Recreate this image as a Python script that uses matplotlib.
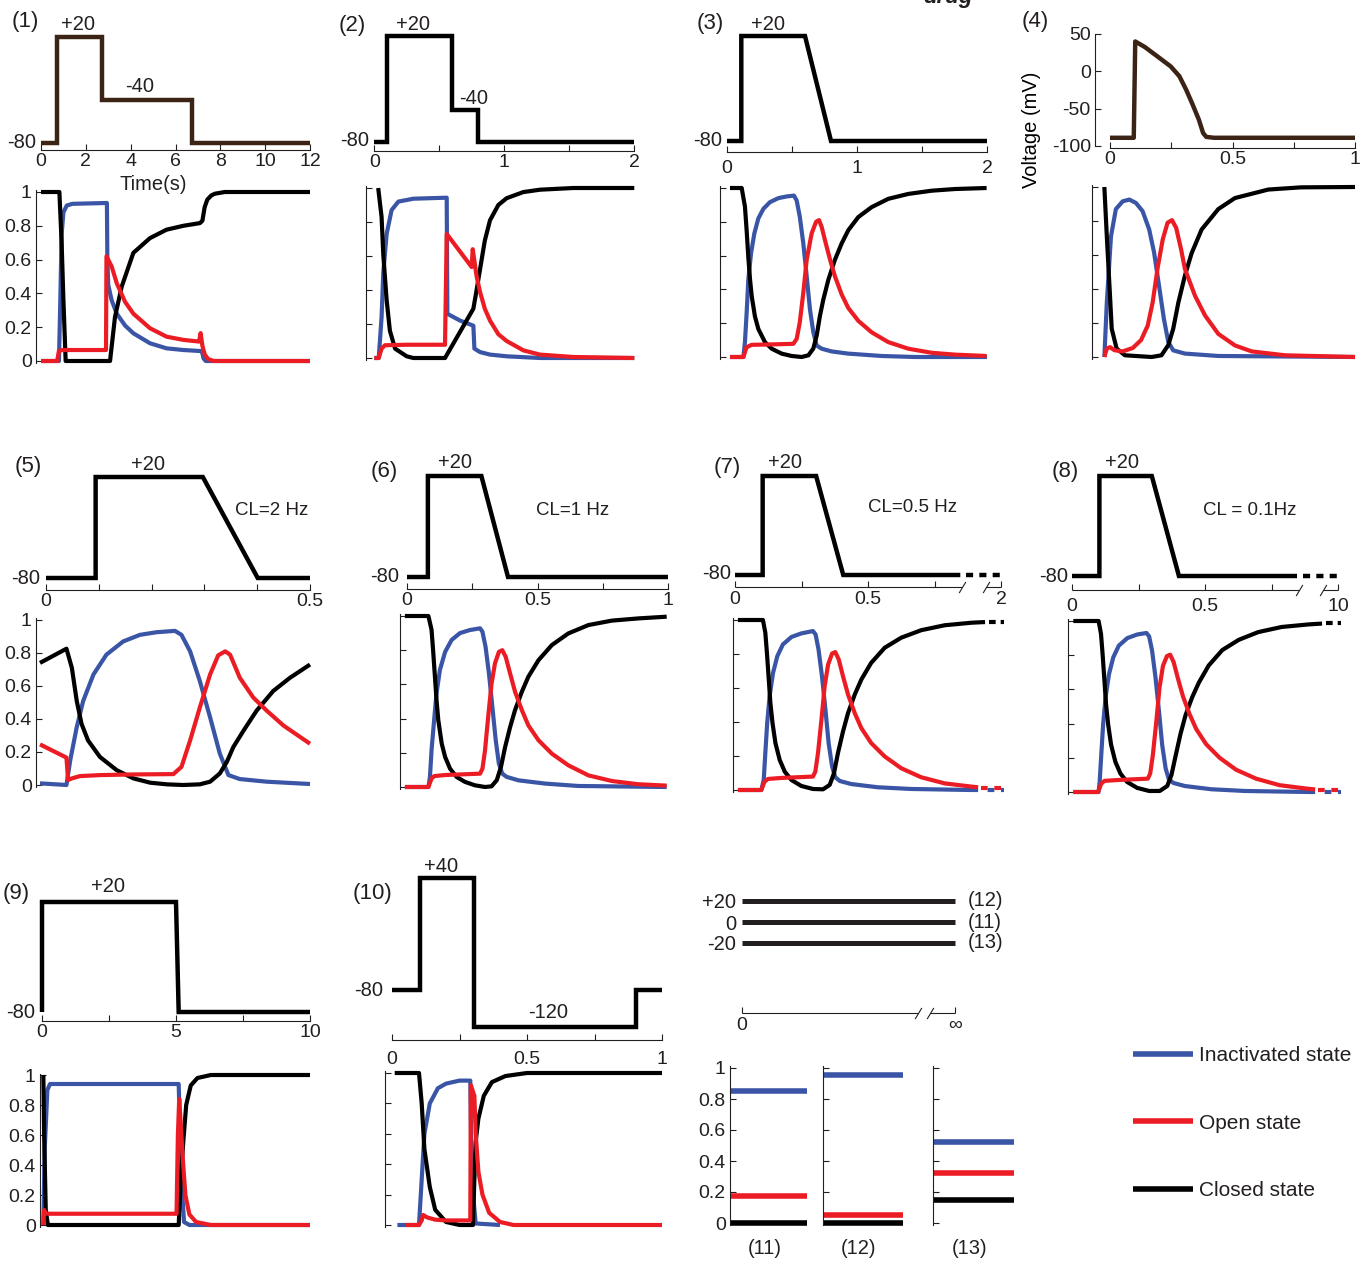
import matplotlib
matplotlib.use('Agg')
import matplotlib.pyplot as plt
from matplotlib.lines import Line2D

plt.rcParams['font.family'] = ['Liberation Sans', 'DejaVu Sans']
plt.rcParams['lines.solid_capstyle'] = 'butt'
plt.rcParams['lines.solid_joinstyle'] = 'round'
plt.rcParams['text.color'] = '#231f20'
plt.rcParams['xtick.color'] = '#231f20'
plt.rcParams['ytick.color'] = '#231f20'

# ------------------------------------------------------------------ DATA
# Voltage protocols (time, mV)
v1_t = [0, 0.7, 0.7, 2.7, 2.7, 6.72, 6.72, 12]
v1_v = [-80, -80, 20, 20, -40, -40, -80, -80]
v2_t = [0, 0.095, 0.095, 0.6, 0.6, 0.8, 0.8, 2.0]
v2_v = [-80, -80, 20, 20, -50, -50, -80, -80]
v3_t = [0, 0.11, 0.11, 0.6, 0.8, 2.0]
v3_v = [-80, -80, 20, 20, -80, -80]
v4_t = [0, 0.097, 0.103, 0.142, 0.195, 0.248, 0.283, 0.31, 0.336, 0.363, 0.38, 0.393, 0.425, 1.0]
v4_v = [-89, -89, 40, 32.6, 19.6, 6.5, -6.5, -24, -43.5, -65, -82.6, -87.8, -89, -89]
v5_t = [0, 0.094, 0.094, 0.297, 0.401, 0.5]
v5_v = [-80, -80, 20, 20, -80, -80]
v6_t = [0, 0.08, 0.08, 0.285, 0.387, 1.0]
v6_v = [-80, -80, 20, 20, -80, -80]
v7_t = [0, 0.104, 0.104, 0.305, 0.407, 0.847]
v7_v = [-80, -80, 20, 20, -80, -80]
v8_t = [0, 0.103, 0.103, 0.3, 0.402, 0.846]
v8_v = [-80, -80, 20, 20, -80, -80]
v9_t = [0, 0, 5.0, 5.1, 10]
v9_v = [-80, 20, 20, -80, -80]
v10_t = [0, 0.103, 0.103, 0.303, 0.303, 0.905, 0.905, 1.0]
v10_v = [-80, -80, 40, 40, -120, -120, -80, -80]
hold_levels = [20, 0, -20]
hold_names = ['(12)', '(11)', '(13)']

# State occupancies (time, fraction)
p1_closed_t = [0, 0.82, 0.92, 1.0, 1.1, 3.08, 3.3, 3.6, 4.12, 4.86, 5.6, 6.35, 7.09, 7.2, 7.3, 7.42, 7.6, 7.76, 8.2, 12]
p1_closed = [1, 1, 0.7, 0.36, 0, 0, 0.26, 0.44, 0.64, 0.727, 0.777, 0.8, 0.816, 0.83, 0.91, 0.955, 0.98, 0.99, 1.0, 1.0]
p1_inact_t = [0, 0.8, 0.86, 0.92, 1.0, 1.15, 1.4, 2.94, 2.96, 3.0, 3.15, 3.38, 3.75, 4.12, 4.86, 5.6, 6.35, 7.09, 7.18, 7.25, 7.35, 12]
p1_inact = [0, 0, 0.35, 0.75, 0.88, 0.92, 0.93, 0.935, 0.6, 0.45, 0.36, 0.28, 0.21, 0.164, 0.105, 0.075, 0.065, 0.059, 0.058, 0.015, 0, 0]
p1_open_t = [0, 0.72, 0.8, 0.95, 2.9, 2.92, 3.15, 3.38, 3.75, 4.12, 4.86, 5.6, 6.35, 7.05, 7.12, 7.2, 7.3, 7.45, 7.7, 12]
p1_open = [0, 0, 0.06, 0.065, 0.065, 0.62, 0.56, 0.46, 0.35, 0.28, 0.194, 0.144, 0.125, 0.115, 0.165, 0.09, 0.04, 0.012, 0, 0]

p2_closed_t = [0.03, 0.056, 0.069, 0.095, 0.12, 0.16, 0.249, 0.3, 0.544, 0.762, 0.787, 0.813, 0.85, 0.89, 0.954, 1.018, 1.146, 1.274, 1.53, 2.0]
p2_closed = [1.0, 0.83, 0.61, 0.34, 0.16, 0.055, 0.01, 0, 0, 0.29, 0.40, 0.52, 0.69, 0.81, 0.9, 0.94, 0.976, 0.99, 1.0, 1.0]
p2_inact_t = [0, 0.034, 0.056, 0.069, 0.095, 0.133, 0.185, 0.3, 0.557, 0.562, 0.66, 0.762, 0.77, 0.813, 0.89, 1.018, 1.274, 2.0]
p2_inact = [0, 0, 0.24, 0.5, 0.73, 0.87, 0.92, 0.937, 0.943, 0.26, 0.22, 0.19, 0.055, 0.035, 0.02, 0.01, 0, 0]
p2_open_t = [0, 0.034, 0.056, 0.082, 0.249, 0.544, 0.557, 0.749, 0.757, 0.787, 0.813, 0.85, 0.89, 0.954, 1.018, 1.146, 1.274, 1.53, 2.0]
p2_open = [0, 0, 0.055, 0.075, 0.078, 0.078, 0.73, 0.535, 0.64, 0.48, 0.39, 0.29, 0.22, 0.14, 0.1, 0.045, 0.02, 0.006, 0]

p3_closed_t = [0.023, 0.113, 0.138, 0.151, 0.164, 0.177, 0.19, 0.215, 0.241, 0.292, 0.344, 0.42, 0.497, 0.574, 0.626, 0.664, 0.69, 0.715, 0.741, 0.78, 0.83, 0.882, 0.933, 1.01, 1.113, 1.241, 1.395, 1.574, 1.754, 1.997]
p3_closed = [1, 1, 0.89, 0.75, 0.59, 0.46, 0.36, 0.24, 0.166, 0.088, 0.049, 0.02, 0.006, 0, 0.01, 0.05, 0.127, 0.244, 0.34, 0.458, 0.575, 0.672, 0.75, 0.828, 0.887, 0.936, 0.965, 0.984, 0.994, 1.0]
p3_inact_t = [0.023, 0.126, 0.138, 0.151, 0.164, 0.185, 0.21, 0.241, 0.28, 0.33, 0.395, 0.459, 0.515, 0.536, 0.56, 0.587, 0.613, 0.638, 0.664, 0.69, 0.728, 0.805, 0.933, 1.19, 1.446, 2.0]
p3_inact = [0, 0, 0.088, 0.26, 0.458, 0.614, 0.73, 0.82, 0.877, 0.916, 0.94, 0.95, 0.955, 0.926, 0.83, 0.672, 0.478, 0.283, 0.146, 0.068, 0.049, 0.033, 0.02, 0.006, 0, 0]
p3_open_t = [0.023, 0.126, 0.151, 0.19, 0.318, 0.51, 0.536, 0.56, 0.587, 0.613, 0.651, 0.685, 0.708, 0.728, 0.754, 0.793, 0.83, 0.882, 0.933, 1.01, 1.113, 1.241, 1.395, 1.574, 1.754, 1.997]
p3_open = [0, 0, 0.058, 0.072, 0.074, 0.078, 0.107, 0.205, 0.38, 0.575, 0.731, 0.8, 0.81, 0.77, 0.69, 0.575, 0.478, 0.37, 0.29, 0.214, 0.146, 0.088, 0.049, 0.025, 0.014, 0.006]

p4_closed_t = [-0.023, -0.013, 0.0, 0.007, 0.027, 0.061, 0.17, 0.21, 0.238, 0.258, 0.279, 0.306, 0.333, 0.374, 0.442, 0.51, 0.646, 0.78, 1.0]
p4_closed = [1.0, 0.71, 0.36, 0.166, 0.05, 0.01, 0, 0.01, 0.07, 0.166, 0.32, 0.48, 0.61, 0.75, 0.87, 0.935, 0.985, 0.998, 1.0]
p4_inact_t = [-0.023, -0.013, 0.004, 0.024, 0.052, 0.079, 0.106, 0.133, 0.16, 0.18, 0.2, 0.22, 0.238, 0.258, 0.306, 0.442, 1.0]
p4_inact = [0, 0.32, 0.71, 0.87, 0.916, 0.926, 0.906, 0.858, 0.75, 0.614, 0.42, 0.224, 0.088, 0.039, 0.02, 0.006, 0]
p4_open_t = [-0.023, -0.013, 0.0, 0.018, 0.052, 0.093, 0.127, 0.154, 0.174, 0.194, 0.215, 0.235, 0.253, 0.27, 0.29, 0.306, 0.347, 0.388, 0.442, 0.51, 0.578, 0.714, 1.0]
p4_open = [0, 0.05, 0.058, 0.04, 0.033, 0.053, 0.1, 0.185, 0.32, 0.52, 0.69, 0.79, 0.805, 0.76, 0.634, 0.517, 0.36, 0.244, 0.136, 0.068, 0.033, 0.01, 0]

p5_closed_t = [0, 0.049, 0.059, 0.068, 0.077, 0.089, 0.111, 0.142, 0.173, 0.204, 0.235, 0.265, 0.296, 0.315, 0.333, 0.346, 0.358, 0.377, 0.401, 0.432, 0.463, 0.5]
p5_closed = [0.74, 0.826, 0.71, 0.51, 0.37, 0.27, 0.17, 0.09, 0.04, 0.014, 0.004, 0, 0.004, 0.02, 0.07, 0.14, 0.23, 0.33, 0.45, 0.57, 0.65, 0.73]
p5_inact_t = [0, 0.049, 0.056, 0.068, 0.08, 0.099, 0.123, 0.154, 0.185, 0.216, 0.25, 0.262, 0.278, 0.296, 0.315, 0.333, 0.349, 0.37, 0.42, 0.5]
p5_inact = [0.01, 0.0, 0.15, 0.35, 0.51, 0.67, 0.79, 0.87, 0.91, 0.926, 0.934, 0.91, 0.81, 0.63, 0.41, 0.19, 0.06, 0.036, 0.02, 0.006]
p5_open_t = [0, 0.049, 0.052, 0.059, 0.074, 0.111, 0.173, 0.247, 0.262, 0.278, 0.296, 0.315, 0.33, 0.343, 0.352, 0.37, 0.395, 0.42, 0.451, 0.5]
p5_open = [0.246, 0.166, 0.03, 0.04, 0.054, 0.06, 0.064, 0.066, 0.11, 0.27, 0.47, 0.67, 0.786, 0.81, 0.79, 0.65, 0.53, 0.45, 0.36, 0.25]

p6_closed_t = [-0.008, 0.082, 0.094, 0.1, 0.107, 0.113, 0.12, 0.133, 0.146, 0.165, 0.19, 0.222, 0.26, 0.299, 0.324, 0.344, 0.36, 0.376, 0.395, 0.414, 0.44, 0.465, 0.504, 0.555, 0.618, 0.695, 0.785, 0.887, 0.995]
p6_closed = [1, 1, 0.92, 0.8, 0.645, 0.51, 0.39, 0.254, 0.176, 0.107, 0.059, 0.03, 0.01, 0, 0.004, 0.04, 0.117, 0.234, 0.35, 0.45, 0.557, 0.645, 0.742, 0.83, 0.898, 0.947, 0.973, 0.986, 0.996]
p6_inact_t = [-0.008, 0.082, 0.088, 0.094, 0.105, 0.113, 0.126, 0.146, 0.171, 0.203, 0.241, 0.28, 0.289, 0.301, 0.314, 0.327, 0.34, 0.352, 0.365, 0.382, 0.427, 0.529, 0.656, 0.995]
p6_inact = [0, 0, 0.06, 0.215, 0.41, 0.547, 0.684, 0.79, 0.86, 0.9, 0.918, 0.928, 0.908, 0.82, 0.664, 0.47, 0.273, 0.137, 0.078, 0.059, 0.039, 0.02, 0.006, 0]
p6_open_t = [-0.008, 0.082, 0.094, 0.105, 0.146, 0.28, 0.289, 0.299, 0.311, 0.324, 0.337, 0.352, 0.365, 0.378, 0.395, 0.414, 0.44, 0.465, 0.504, 0.555, 0.618, 0.695, 0.785, 0.887, 0.995]
p6_open = [0, 0, 0.049, 0.064, 0.07, 0.078, 0.107, 0.215, 0.41, 0.605, 0.723, 0.79, 0.8, 0.762, 0.664, 0.557, 0.45, 0.36, 0.273, 0.195, 0.127, 0.068, 0.035, 0.016, 0.008]

p7_closed_t = [0.011, 0.105, 0.114, 0.12, 0.127, 0.133, 0.141, 0.152, 0.168, 0.187, 0.212, 0.249, 0.293, 0.331, 0.356, 0.372, 0.387, 0.406, 0.425, 0.45, 0.475, 0.512, 0.563, 0.625, 0.7, 0.788, 0.889, 0.94]
p7_closed = [1, 1, 0.925, 0.807, 0.65, 0.512, 0.394, 0.276, 0.177, 0.108, 0.059, 0.024, 0.006, 0.004, 0.03, 0.098, 0.217, 0.344, 0.453, 0.561, 0.65, 0.748, 0.837, 0.896, 0.94, 0.969, 0.984, 0.988]
p7_inact_t = [0.011, 0.099, 0.108, 0.114, 0.121, 0.13, 0.143, 0.159, 0.18, 0.212, 0.249, 0.293, 0.303, 0.314, 0.327, 0.34, 0.352, 0.365, 0.377, 0.394, 0.437, 0.537, 0.663, 0.889, 0.914]
p7_inact = [0, 0, 0.06, 0.217, 0.394, 0.551, 0.689, 0.787, 0.856, 0.9, 0.921, 0.935, 0.915, 0.827, 0.669, 0.472, 0.276, 0.138, 0.075, 0.053, 0.035, 0.016, 0.006, 0, 0]
p7_open_t = [0.011, 0.099, 0.111, 0.124, 0.174, 0.293, 0.302, 0.312, 0.325, 0.337, 0.35, 0.365, 0.377, 0.39, 0.406, 0.425, 0.45, 0.475, 0.512, 0.563, 0.625, 0.7, 0.788, 0.889, 0.914]
p7_open = [0, 0, 0.049, 0.065, 0.071, 0.079, 0.108, 0.217, 0.413, 0.61, 0.738, 0.803, 0.811, 0.768, 0.669, 0.561, 0.453, 0.364, 0.276, 0.197, 0.128, 0.075, 0.039, 0.02, 0.016]

p8_closed_t = [0.005, 0.1, 0.109, 0.115, 0.122, 0.128, 0.136, 0.147, 0.163, 0.182, 0.207, 0.245, 0.29, 0.33, 0.358, 0.374, 0.39, 0.408, 0.427, 0.452, 0.477, 0.514, 0.565, 0.627, 0.7, 0.788, 0.889, 0.94]
p8_closed = [1, 1, 0.925, 0.807, 0.65, 0.512, 0.394, 0.276, 0.177, 0.108, 0.059, 0.024, 0.006, 0.006, 0.035, 0.1, 0.215, 0.34, 0.45, 0.555, 0.64, 0.74, 0.83, 0.89, 0.935, 0.965, 0.98, 0.985]
p8_inact_t = [0.005, 0.1, 0.104, 0.11, 0.117, 0.126, 0.139, 0.155, 0.176, 0.208, 0.245, 0.28, 0.29, 0.301, 0.314, 0.327, 0.339, 0.352, 0.364, 0.381, 0.424, 0.524, 0.65, 0.889, 0.914]
p8_inact = [0, 0, 0.06, 0.217, 0.394, 0.551, 0.689, 0.787, 0.856, 0.9, 0.921, 0.93, 0.91, 0.827, 0.669, 0.472, 0.276, 0.138, 0.075, 0.053, 0.035, 0.016, 0.006, 0, 0]
p8_open_t = [0.005, 0.098, 0.11, 0.122, 0.172, 0.285, 0.294, 0.304, 0.317, 0.329, 0.342, 0.357, 0.369, 0.382, 0.398, 0.417, 0.442, 0.467, 0.504, 0.555, 0.617, 0.692, 0.78, 0.881, 0.914]
p8_open = [0, 0, 0.049, 0.065, 0.07, 0.078, 0.108, 0.217, 0.413, 0.61, 0.738, 0.795, 0.803, 0.76, 0.665, 0.56, 0.455, 0.368, 0.28, 0.2, 0.13, 0.078, 0.04, 0.02, 0.015]

p9_closed_t = [0.05, 0.08, 0.14, 0.22, 5.1, 5.18, 5.27, 5.38, 5.55, 5.8, 6.3, 10]
p9_closed = [1.0, 0.6, 0.1, 0.0, 0.0, 0.3, 0.55, 0.8, 0.93, 0.98, 1.0, 1.0]
p9_inact_t = [0.05, 0.1, 0.2, 0.3, 5.1, 5.2, 5.3, 5.5, 10]
p9_inact = [0, 0.5, 0.9, 0.94, 0.94, 0.3, 0.02, 0, 0]
p9_open_t = [0.05, 0.08, 0.12, 0.3, 5.02, 5.07, 5.12, 5.25, 5.35, 5.5, 5.75, 6.3, 10]
p9_open = [0, 0.1, 0.077, 0.075, 0.075, 0.6, 0.84, 0.45, 0.2, 0.07, 0.02, 0.0, 0.0]

p10_closed_t = [0.01, 0.1, 0.11, 0.12, 0.14, 0.16, 0.2, 0.25, 0.3, 0.305, 0.31, 0.32, 0.34, 0.37, 0.42, 0.5, 1.0]
p10_closed = [1, 1, 0.8, 0.5, 0.25, 0.1, 0.02, 0.0, 0.0, 0.3, 0.55, 0.7, 0.85, 0.94, 0.98, 1.0, 1.0]
p10_inact_t = [0.02, 0.1, 0.11, 0.12, 0.14, 0.17, 0.2, 0.25, 0.29, 0.295, 0.31, 0.4]
p10_inact = [0, 0, 0.3, 0.6, 0.8, 0.9, 0.93, 0.95, 0.95, 0.3, 0.01, 0]
p10_open_t = [0.05, 0.1, 0.11, 0.115, 0.13, 0.16, 0.2, 0.29, 0.292, 0.305, 0.31, 0.32, 0.335, 0.36, 0.4, 0.45, 1.0]
p10_open = [0, 0, 0.03, 0.066, 0.05, 0.035, 0.03, 0.03, 0.92, 0.85, 0.6, 0.35, 0.2, 0.08, 0.02, 0.0, 0.0]

# tails after axis break, panels (7) and (8): closed, inactivated, open
p7_tail = [0.99, 0.0, 0.012]
p8_tail = [0.99, 0.0, 0.012]

# steady state at constant voltage, panels (11), (12), (13)
ss_names = ['(11)', '(12)', '(13)']
ss_inact = [0.853, 0.957, 0.52]
ss_open = [0.171, 0.054, 0.32]
ss_closed = [0.0, 0.0, 0.15]

state_labels = ['Inactivated state', 'Open state', 'Closed state']

# ------------------------------------------------------------------ STYLE
C_INACT = '#3a55a5'
C_OPEN = '#ec1c24'
C_CLOSED = '#000000'
C_BROWN = '#3b2416'
LW_V = 3.2
LW_S = 3.0
FS_T = 14
FS_A = 14.5
FS_P = 16

W, H = 1361, 1262
fig = plt.figure(figsize=(W / 100, H / 100), dpi=100)


def px_axes(l, t, r, b, xmap, ymap):
    ax = fig.add_axes([l / W, 1 - b / H, (r - l) / W, (b - t) / H])
    (xd0, xp0), (xd1, xp1) = xmap
    sx = (xd1 - xd0) / (xp1 - xp0)
    ax.set_xlim(xd0 + (l - xp0) * sx, xd0 + (r - xp0) * sx)
    (yd0, yp0), (yd1, yp1) = ymap
    sy = (yd1 - yd0) / (yp1 - yp0)
    ax.set_ylim(yd0 + (b - yp0) * sy, yd0 + (t - yp0) * sy)
    ax.patch.set_visible(False)
    for s in ax.spines.values():
        s.set_visible(False)
        s.set_linewidth(0.8)
        s.set_color('#231f20')
    ax.set_xticks([])
    ax.set_yticks([])
    return ax


def ftext(x, y, s, **kw):
    kw.setdefault('ha', 'center')
    kw.setdefault('va', 'center')
    kw.setdefault('fontsize', FS_A)
    fig.text(x / W, 1 - y / H, s, **kw)


def volt_axes(l, r, t, b, xmap, ymap, xticks, xlabels, xmax, pad=2, broken=None):
    ax = px_axes(l, t, r, b, xmap, ymap)
    ax.set_xticks(xticks)
    ax.set_xticklabels(xlabels)
    ax.tick_params(axis='x', direction='in', length=4, width=0.8, pad=pad, labelsize=FS_T)
    if broken is None:
        ax.spines['bottom'].set_visible(True)
        ax.spines['bottom'].set_bounds(0, xmax)
    else:
        e1, s2 = broken
        tr = ax.get_xaxis_transform()
        ax.plot([0, e1], [0, 0], transform=tr, color='#231f20', lw=0.8, clip_on=False)
        ax.plot([s2, xmax], [0, 0], transform=tr, color='#231f20', lw=0.8, clip_on=False)
        ax.plot([e1, s2], [0, 0], transform=tr, ls='none', marker=[(-0.6, -1), (0.6, 1)],
                ms=8, mew=0.8, color='#231f20', clip_on=False)
    return ax


def state_axes(l, r, y1, y0, xmap, labels=False):
    ax = px_axes(l, y1 - 6, r, y0 + 6, xmap, ((0, y0), (1, y1)))
    ax.spines['left'].set_visible(True)
    ax.spines['left'].set_bounds(-0.01, 1.01)
    ax.set_yticks([0, 0.2, 0.4, 0.6, 0.8, 1])
    if labels:
        ax.set_yticklabels(['0', '0.2', '0.4', '0.6', '0.8', '1'])
    else:
        ax.set_yticklabels([])
    ax.tick_params(axis='y', direction='in', length=4, width=0.8, pad=3, labelsize=FS_T)
    return ax


def draw_states(ax, tc, c, ti, i, to, o):
    ax.plot(ti, i, color=C_INACT, lw=LW_S, clip_on=False)
    ax.plot(tc, c, color=C_CLOSED, lw=LW_S, clip_on=False)
    ax.plot(to, o, color=C_OPEN, lw=LW_S, clip_on=False)


def vplot(ax, t, v, color='k'):
    ax.plot(t, v, color=color, lw=LW_V, clip_on=False, solid_joinstyle='miter')


# ------------------------------------------------------------------ ROW 1
ax = volt_axes(41, 312, 30, 150, ((0, 41), (12, 310)), ((-80, 142.7), (20, 36.7)),
               [0, 2, 4, 6, 8, 10, 12], ['0', '2', '4', '6', '8', '10', '12'], 12, pad=2)
vplot(ax, v1_t, v1_v, C_BROWN)
ax = state_axes(36, 312, 192, 361, ((0, 41), (12, 310)), labels=True)
draw_states(ax, p1_closed_t, p1_closed, p1_inact_t, p1_inact, p1_open_t, p1_open)
ftext(25, 22, '(1)', fontsize=FS_P)
ftext(78, 25, '+20')
ftext(140, 86, '-40')
ftext(36, 142, '-80', ha='right')
ftext(153, 184, 'Time(s)')

ax = volt_axes(374, 636, 30, 151, ((0, 374.3), (2, 634.3)), ((-80, 142.3), (20, 36)),
               [0, 0.5, 1, 1.5, 2], ['0', '', '1', '', '2'], 2, pad=2)
vplot(ax, v2_t, v2_v)
ax = state_axes(366, 636, 188, 358, ((0, 374.3), (2, 634.3)))
draw_states(ax, p2_closed_t, p2_closed, p2_inact_t, p2_inact, p2_open_t, p2_open)
ftext(352, 25, '(2)', fontsize=FS_P)
ftext(413, 24, '+20')
ftext(474, 99, '-40')
ftext(369, 141, '-80', ha='right')

ax = volt_axes(727, 990, 30, 152, ((0, 727), (2, 987)), ((-80, 141), (20, 36)),
               [0, 0.5, 1, 1.5, 2], ['0', '', '1', '', '2'], 2, pad=6)
vplot(ax, v3_t, v3_v)
ax = state_axes(720, 992, 188, 357, ((0, 727), (2, 987)))
draw_states(ax, p3_closed_t, p3_closed, p3_inact_t, p3_inact, p3_open_t, p3_open)
ftext(710, 24, '(3)', fontsize=FS_P)
ftext(768, 24, '+20')
ftext(722, 141, '-80', ha='right')

ax = px_axes(1095, 28, 1358, 148, ((0, 1110), (1, 1355)), ((50, 34), (-100, 146)))
ax.spines['left'].set_visible(True)
ax.spines['left'].set_bounds(-100, 50)
ax.spines['bottom'].set_visible(True)
ax.spines['bottom'].set_bounds(0, 1)
ax.set_yticks([50, 0, -50, -100])
ax.set_yticklabels(['50', '0', '-50', '-100'])
ax.set_xticks([0, 0.25, 0.5, 0.75, 1])
ax.set_xticklabels(['0', '', '0.5', '', '1'])
ax.tick_params(direction='in', length=4, width=0.8, labelsize=FS_T)
ax.tick_params(axis='x', pad=2)
ax.tick_params(axis='y', pad=3)
ax.plot(v4_t, v4_v, color=C_BROWN, lw=LW_V, clip_on=False)
ax.set_ylabel('Voltage (mV)', fontsize=FS_A, labelpad=2)
ax.yaxis.set_label_coords((1041 - 1095) / (1358 - 1095), (148 - 130) / 120)
ax = state_axes(1092, 1360, 187, 357, ((0, 1110), (1, 1355)))
draw_states(ax, p4_closed_t, p4_closed, p4_inact_t, p4_inact, p4_open_t, p4_open)
ftext(1035, 22, '(4)', fontsize=FS_P)

# ------------------------------------------------------------------ ROW 2
ax = volt_axes(46, 312, 470, 590, ((0, 46), (0.5, 310)), ((-80, 578), (20, 477)),
               [0, 0.1, 0.2, 0.3, 0.4, 0.5], ['0', '', '', '', '', '0.5'], 0.5, pad=2)
vplot(ax, v5_t, v5_v)
ax = state_axes(36, 312, 620, 785, ((0, 40), (0.5, 310)), labels=True)
draw_states(ax, p5_closed_t, p5_closed, p5_inact_t, p5_inact, p5_open_t, p5_open)
ftext(28, 467, '(5)', fontsize=FS_P)
ftext(148, 465, '+20')
ftext(40, 578, '-80', ha='right')
ftext(272, 510, 'CL=2 Hz', fontsize=13.5)

ax = volt_axes(407, 670, 470, 589, ((0, 407), (1, 668)), ((-80, 577), (20, 476)),
               [0, 0.25, 0.5, 0.75, 1], ['0', '', '0.5', '', '1'], 1, pad=2)
vplot(ax, v6_t, v6_v)
ax = state_axes(400, 670, 616, 787, ((0, 407), (1, 668)))
draw_states(ax, p6_closed_t, p6_closed, p6_inact_t, p6_inact, p6_open_t, p6_open)
ftext(384, 472, '(6)', fontsize=FS_P)
ftext(455, 462, '+20')
ftext(399, 577, '-80', ha='right')
ftext(573, 510, 'CL=1 Hz', fontsize=13.5)

# panels 7, 8 with broken time axis (display units 0..1)
for (l, b, xmap, ymap, vt, vv, lastlab, pcs, tail, plab, ppos, p20, p80, cl, clpos, tpad, sl, sy1, sy0) in [
    (735, 587, ((0, 735), (0.5, 868)), ((-80, 575), (20, 476)), v7_t, v7_v, '2',
     (p7_closed_t, p7_closed, p7_inact_t, p7_inact, p7_open_t, p7_open), p7_tail,
     '(7)', (727, 468), (785, 462), (731, 574), 'CL=0.5 Hz', (912, 507), 3, 733, 620, 790),
    (1072, 590, ((0, 1072), (0.5, 1205)), ((-80, 576), (20, 476)), v8_t, v8_v, '10',
     (p8_closed_t, p8_closed, p8_inact_t, p8_inact, p8_open_t, p8_open), p8_tail,
     '(8)', (1065, 472), (1122, 462), (1068, 576), 'CL = 0.1Hz', (1250, 510), 6, 1068, 621, 792),
]:
    ax = volt_axes(l, l + 275, b - 120, b, xmap, ymap, [0, 0.25, 0.5, 0.75, 1.0],
                   ['0', '', '0.5', '', lastlab], 1.0, pad=tpad, broken=(0.855, 0.945))
    vplot(ax, vt, vv)
    ax.plot([0.87, 1.0], [vv[-1], vv[-1]], color='k', lw=LW_V, ls=(0, (1.6, 1.4)), clip_on=False)
    ax = state_axes(sl, sl + 280, sy1, sy0, xmap)
    tc, c, ti, i, to, o = pcs
    draw_states(ax, tc, c, ti, i, to, o)
    ax.plot([0.955, 1.01], [tail[0], tail[0]], color=C_CLOSED, lw=LW_S, ls=(0, (1.6, 1.2)), clip_on=False)
    ax.plot([0.925, 1.01], [tail[1], tail[1]], color=C_INACT, lw=LW_S, ls=(1.6, (1.6, 1.6)), clip_on=False)
    ax.plot([0.925, 1.01], [tail[2], tail[2]], color=C_OPEN, lw=LW_S, ls=(0, (1.6, 1.6)), clip_on=False)
    ftext(*ppos, plab, fontsize=FS_P)
    ftext(*p20, '+20')
    ftext(*p80, '-80', ha='right')
    ftext(*clpos, cl, fontsize=13.5)

# ------------------------------------------------------------------ ROW 3
ax = volt_axes(42, 312, 890, 1021, ((0, 42), (10, 310)), ((-80, 1012), (20, 902)),
               [0, 2.5, 5, 7.5, 10], ['0', '', '5', '', '10'], 10, pad=2)
vplot(ax, v9_t, v9_v)
ax = state_axes(40, 312, 1075, 1225, ((0, 42), (10, 310)), labels=True)
draw_states(ax, p9_closed_t, p9_closed, p9_inact_t, p9_inact, p9_open_t, p9_open)
ftext(16, 893, '(9)', fontsize=FS_P)
ftext(108, 887, '+20')
ftext(35, 1013, '-80', ha='right')

ax = volt_axes(392, 664, 870, 1040, ((0, 392), (1, 662)), ((-80, 990), (40, 878)),
               [0, 0.25, 0.5, 0.75, 1], ['0', '', '0.5', '', '1'], 1, pad=8)
vplot(ax, v10_t, v10_v)
ax = state_axes(385, 664, 1073, 1225, ((0, 392), (1, 662)))
draw_states(ax, p10_closed_t, p10_closed, p10_inact_t, p10_inact, p10_open_t, p10_open)
ftext(373, 893, '(10)', fontsize=FS_P)
ftext(441, 867, '+40')
ftext(548, 1013, '-120')
ftext(383, 990, '-80', ha='right')

# constant holding voltages (11)-(13)
ax = volt_axes(742, 960, 880, 1013, ((0, 742), (1, 955)), ((20, 901), (-20, 943)),
               [0, 1.0], ['0', '\u221e'], 1.0, pad=3, broken=(0.826, 0.883))
for lev in hold_levels:
    ax.plot([0, 1], [lev, lev], color='#231f20', lw=LW_V + 0.4, clip_on=False)
ax.set_yticks(hold_levels)
ax.set_yticklabels(['+20', '0', '-20'])
ax.tick_params(axis='y', length=0, pad=4, labelsize=FS_A)
for lev, name in zip(hold_levels, hold_names):
    ax.annotate(name, (1, lev), xytext=(9, 0), textcoords='offset points',
                va='center', ha='left', fontsize=FS_A)

for k, (l, r) in enumerate([(730, 807), (823, 903), (933, 1014)]):
    ax = state_axes(l, r, 1068, 1223, ((0, l), (1, r)), labels=(k == 0))
    ax.set_xlim(0, 1)
    ax.plot([0, 1], [ss_inact[k]] * 2, color=C_INACT, lw=4, clip_on=False)
    ax.plot([0, 1], [ss_open[k]] * 2, color=C_OPEN, lw=4, clip_on=False)
    ax.plot([0, 1], [ss_closed[k]] * 2, color=C_CLOSED, lw=4, clip_on=False)
    ax.set_xticks([0.45])
    ax.set_xticklabels([ss_names[k]])
    ax.tick_params(axis='x', length=0, pad=7, labelsize=FS_A)

# legend
handles = [Line2D([], [], color=C_INACT, lw=4), Line2D([], [], color=C_OPEN, lw=4),
           Line2D([], [], color=C_CLOSED, lw=4)]
fig.legend(handles, state_labels, loc='upper left', bbox_to_anchor=(1133 / W, 1 - 1046 / H),
           frameon=False, fontsize=15, handlelength=2.9, handletextpad=0.25,
           labelspacing=2.33, borderpad=0, borderaxespad=0)

ftext(948, 3, 'drug', fontsize=16, fontweight='bold', style='italic', va='baseline')

fig.savefig('out.png', dpi=100)
